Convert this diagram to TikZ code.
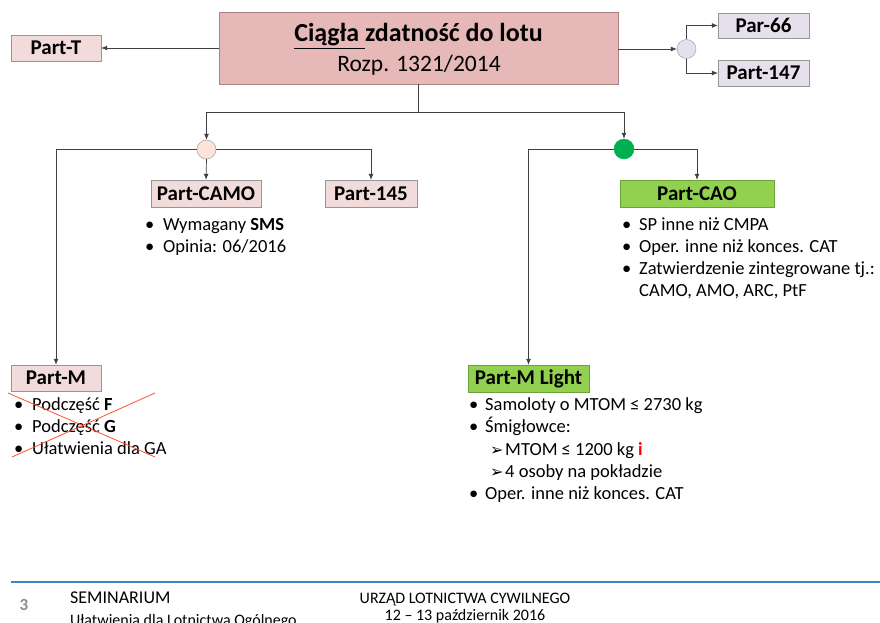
\documentclass[tikz,border=0pt]{standalone}
\usepackage{fontspec}
\setmainfont{Carlito}
\newfontfamily\symfont{DejaVu Sans}
\usetikzlibrary{arrows.meta}

\definecolor{mainpink}{RGB}{230, 185, 184}
\definecolor{mainedge}{RGB}{170, 130, 128}
\definecolor{lightpink}{RGB}{242, 220, 219}
\definecolor{lavender}{RGB}{230, 224, 236}
\definecolor{peach}{RGB}{252, 228, 214}
\definecolor{boxedge}{RGB}{150, 150, 150}
\definecolor{greenbox}{RGB}{146, 208, 80}
\definecolor{greenedge}{RGB}{110, 160, 60}
\definecolor{greendot}{RGB}{0, 176, 80}
\definecolor{crossred}{RGB}{255, 80, 50}
\definecolor{footblue}{RGB}{68, 130, 200}
\definecolor{footgray}{RGB}{140, 140, 140}

\begin{document}
\begin{tikzpicture}[x=1pt, y=-1pt,
    >={Latex[length=6pt,width=5pt]},
    conn/.style={->, draw=black!75, line width=0.7pt},
    partbox/.style={draw=boxedge, fill=lightpink, inner sep=0pt, minimum height=26pt,
      font=\fontsize{21}{25}\selectfont\bfseries},
    dot/.style={circle, draw=boxedge, minimum size=19pt, inner sep=0pt},
    item/.style={anchor=base west, inner sep=0pt, font=\fontsize{18.5}{22}\selectfont},
    foot/.style={inner sep=0pt, font=\fontsize{16}{19}\selectfont}]
  \useasboundingbox (0,0) rectangle (880,623);

  % Main box
  \node[draw=mainedge, fill=mainpink, minimum width=399pt, minimum height=72pt] (main) at (418.5,48) {};
  \node[anchor=base, inner sep=0pt, font=\fontsize{26}{30}\selectfont\bfseries] (maintitle) at (418.5,42)
    {\underline{Ciągła\ }zdatność do lotu};
  \node[anchor=base, inner sep=0pt, font=\fontsize{23.5}{28}\selectfont] (mainref) at (419,72) {Rozp. 1321/2014};

  % Left and right of main
  \node[partbox, minimum width=90pt] (partt) at (56,48) {Part-T};
  \node[dot, fill=lavender] (techdot) at (686.5,49) {};
  \node[partbox, fill=lavender, minimum width=91pt, minimum height=25pt] (par66) at (763.5,25.5) {Par-66};
  \node[partbox, fill=lavender, minimum width=91pt] (part147) at (763.5,73) {Part-147};

  % Split below main
  \coordinate (split) at (418.5,112);
  \node[dot, fill=peach] (camodot) at (206.5,149.5) {};
  \node[dot, draw=greendot, fill=greendot, minimum size=20pt] (caodot) at (624,149) {};

  % Parts
  \node[partbox, minimum width=110pt, minimum height=27pt] (partcamo) at (206,193.5) {Part-CAMO};
  \node[partbox, minimum width=92pt, minimum height=27pt] (part145) at (371,193.5) {Part-145};
  \node[partbox, draw=greenedge, fill=greenbox, minimum width=154pt, minimum height=27pt] (partcao) at (697,193.5) {Part-CAO};
  \node[partbox, minimum width=90pt] (partm) at (56,378) {Part-M};
  \node[partbox, draw=greenedge, fill=greenbox, minimum width=121pt, minimum height=27pt] (partml) at (528.5,378.5) {Part-M Light};

  % Arrows
  \draw[conn] (main.west) -- (partt.east);
  \draw[conn] (main.east |- techdot) -- (techdot.west);
  \draw[conn] (techdot.north) |- (par66.west);
  \draw[conn] (techdot.south) |- (part147.west);
  \draw[conn] (main.south) -- (split) -| (camodot.north);
  \draw[conn] (split) -| (caodot.north);
  \draw[conn] (camodot.west) -| (partm.north);
  \draw[conn] (camodot.east) -| (part145.north);
  \draw[conn] (camodot.south) -- (partcamo.north);
  \draw[conn] (caodot.west) -| (partml.north);
  \draw[conn] (caodot.east) -| (partcao.north);

  % Part-CAMO list
  \node[item] (camoa) at (145,230) {\makebox[18pt][l]{•}Wymagany \textbf{SMS}};
  \node[item] (camob) at (145,252) {\makebox[18pt][l]{•}Opinia: 06/2016};

  % Part-CAO list
  \node[item] (caoa) at (622,230) {\makebox[17pt][l]{•}SP inne niż CMPA};
  \node[item] (caob) at (622,252) {\makebox[17pt][l]{•}Oper. inne niż konces. CAT};
  \node[item] (caoc) at (622,274) {\makebox[17pt][l]{•}Zatwierdzenie zintegrowane tj.:};
  \node[item] (caod) at (639,296) {CAMO, AMO, ARC, PtF};

  % Part-M list (crossed out)
  \node[item] (ma) at (14,410) {\makebox[18pt][l]{•}Podczęść \textbf{F}};
  \node[item] (mb) at (14,432) {\makebox[18pt][l]{•}Podczęść \textbf{G}};
  \node[item] (mc) at (14,454) {\makebox[18pt][l]{•}Ułatwienia dla GA};
  \draw[crossred, line width=0.8pt] (8,393) -- (155,457);
  \draw[crossred, line width=0.8pt] (12,457) -- (155,393);

  % Part-M Light list
  \node[item] (mla) at (469,410) {\makebox[16pt][l]{•}Samoloty o MTOM ≤ 2730 kg};
  \node[item] (mlb) at (469,432) {\makebox[16pt][l]{•}Śmigłowce:};
  \node[item] (mlc) at (490,455) {\makebox[15pt][l]{\symfont\fontsize{16}{18}\selectfont ➢}MTOM ≤ 1200 kg \textbf{\color{red}i}};
  \node[item] (mld) at (490,477) {\makebox[15pt][l]{\symfont\fontsize{16}{18}\selectfont ➢}4 osoby na pokładzie};
  \node[item] (mle) at (469,499) {\makebox[16pt][l]{•}Oper. inne niż konces. CAT};

  % Footer
  \draw[footblue, line width=1.5pt] (11,582) -- (880,582);
  \node[foot, text=footgray, font=\fontsize{17}{19}\selectfont\bfseries] (pagenum) at (24,605) {3};
  \node[foot, anchor=base west, font=\fontsize{18}{21}\selectfont] (semtitle) at (70,603) {SEMINARIUM};
  \node[foot, anchor=base west] (semsub) at (70,625) {Ułatwienia dla Lotnictwa Ogólnego};
  \node[foot, anchor=base] (ulc) at (465,603) {URZĄD LOTNICTWA CYWILNEGO};
  \node[foot, anchor=base] (semdate) at (465,620) {12 – 13 październik 2016};
\end{tikzpicture}
\end{document}
